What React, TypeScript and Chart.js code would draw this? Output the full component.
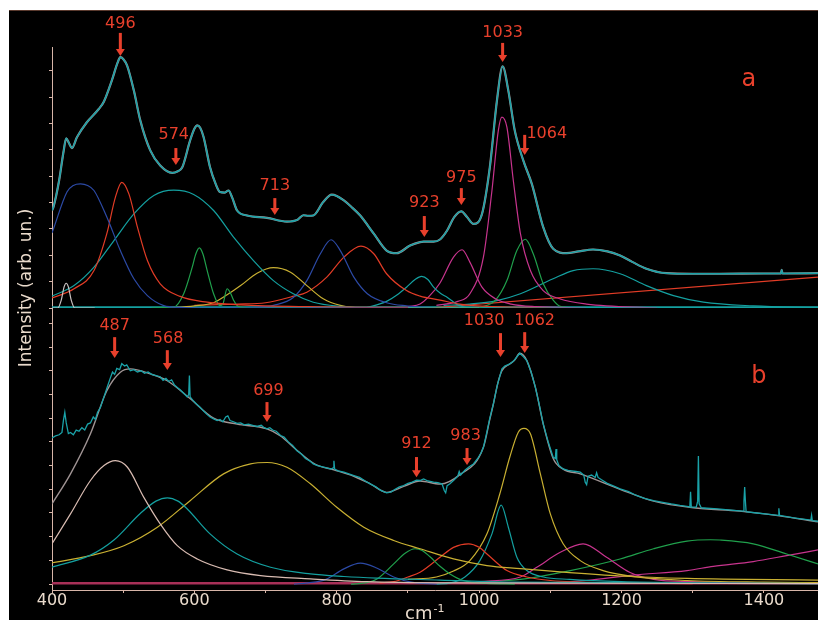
import React, { useEffect, useRef } from 'react';
import { Chart, registerables } from 'chart.js';

Chart.register(...registerables);

type Pt = [number, number];

// ---------- axis ----------
const X_MIN = 400;
const X_MAX = 1476;
const X_TICK_LABELS = [400, 600, 800, 1000, 1200, 1400];
const Y_TITLE = 'Intensity (arb. un.)';
const X_TITLE = 'cm';
const X_TITLE_SUP = '-1';

// ---------- panel a ----------
const spectrumA: Pt[] = [
  [400, 3.7], [402, 3.83], [410, 4.84], [416, 5.9], [420, 6.44], [424, 6.25], [428, 6.07], [435, 6.48],
  [449, 7.05], [466, 7.56], [473, 7.84], [484, 8.63], [492, 9.3], [496, 9.52], [500, 9.45], [505.5, 9.2],
  [515, 8.25], [524, 7.12], [538, 5.98], [552, 5.41], [569, 5.13], [576, 5.18], [583, 5.34], [594, 6.36],
  [600, 6.8], [604, 6.93], [608, 6.85], [613, 6.48], [622, 5.34], [630, 4.7], [636, 4.4], [642, 4.38],
  [648, 4.46], [653, 4.2], [660, 3.7], [674, 3.51], [702, 3.42], [730, 3.28], [745, 3.35], [753, 3.52],
  [760, 3.5], [767, 3.51], [781, 4.02], [793, 4.3], [800, 4.25], [810, 4.08], [820, 3.85], [833, 3.51],
  [852, 2.82], [870, 2.18], [884, 2.08], [903, 2.37], [917, 2.5], [922, 2.52], [936, 2.52], [945, 2.6],
  [955, 2.94], [965, 3.45], [975, 3.67], [983, 3.45], [992, 3.19], [1004, 3.57], [1015, 5.34], [1025, 7.87],
  [1033, 9.17], [1041, 8.25], [1050, 6.74], [1062, 5.6], [1074, 4.71], [1090, 3.07], [1104, 2.25],
  [1123, 2.08], [1140, 2.15], [1160, 2.22], [1180, 2.15], [1198, 1.99], [1215, 1.75], [1235, 1.49],
  [1263, 1.32], [1300, 1.3], [1338, 1.3], [1400, 1.31], [1424, 1.31], [1425, 1.45], [1426, 1.31], [1476, 1.32],
];
const smallPeakA: Pt[] = [[400, 0], [408, 0], [413, 0.3], [417, 0.8], [420, 0.94], [423, 0.8], [427, 0.3], [432, 0], [460, 0]];
const blueA1: Pt[] = [
  [400, 2.85], [402, 3.0], [421, 4.4], [430, 4.65], [440, 4.71], [450, 4.65], [459, 4.46], [477, 3.45],
  [496, 2.18], [515, 1.11], [534, 0.47], [557, 0.09], [580, 0.02], [620, 0], [900, 0],
];
const redA1: Pt[] = [
  [400, 0.38], [431, 0.73], [459, 1.42], [477, 2.82], [489, 4.2], [498, 4.77], [508, 4.33], [520, 3.07],
  [534, 1.8], [552, 0.92], [580, 0.44], [618, 0.22], [665, 0.12], [758, 0.05], [900, 0.02],
];
const tealA1: Pt[] = [
  [400, 0.45], [431, 0.85], [459, 1.55], [487, 2.56], [515, 3.57], [543, 4.27], [571, 4.47], [599, 4.31],
  [627, 3.7], [655, 2.69], [683, 1.8], [711, 1.04], [739, 0.54], [767, 0.22], [805, 0.06], [850, 0], [1476, 0],
];
const greenA1: Pt[] = [
  [540, 0], [571, 0.03], [585, 0.54], [597, 1.55], [602, 2.05], [607, 2.28], [612, 2.05], [618, 1.42],
  [627, 0.54], [636, 0.09], [640, 0.15], [646, 0.73], [651, 0.55], [655, 0.3], [662, 0.05], [680, 0], [760, 0],
];
const yellowA: Pt[] = [
  [560, 0], [600, 0.08], [627, 0.2], [646, 0.5], [665, 0.85], [688, 1.32], [711, 1.53], [735, 1.36],
  [758, 0.85], [781, 0.35], [805, 0.1], [840, 0], [1000, 0],
];
const blueA2: Pt[] = [
  [650, 0], [700, 0.05], [711, 0.1], [739, 0.4], [758, 1.04], [777, 2.06], [792, 2.59], [805, 2.18],
  [824, 1.17], [843, 0.54], [870, 0.2], [898, 0.08], [940, 0],
];
const redA2: Pt[] = [
  [600, 0.1], [660, 0.15], [700, 0.2], [740, 0.45], [758, 0.6], [786, 1.17], [810, 1.93], [834, 2.35],
  [852, 2.06], [870, 1.3], [898, 0.66], [917, 0.45], [945, 0.3], [973, 0.15], [1020, 0.05], [1100, 0],
];
const tealA2: Pt[] = [
  [840, 0], [870, 0.25], [885, 0.5], [898, 0.79], [910, 1.08], [919, 1.2], [928, 1.08], [936, 0.79],
  [946, 0.55], [955, 0.41], [973, 0.08], [1000, 0],
];
const magentaA1: Pt[] = [
  [900, 0.05], [917, 0.15], [930, 0.45], [945, 0.95], [964, 1.93], [976, 2.21], [987, 1.74], [1004, 0.79],
  [1023, 0.35], [1045, 0.15], [1080, 0.05], [1150, 0],
];
const magentaA2: Pt[] = [
  [940, 0.1], [970, 0.25], [987, 0.54], [1006, 1.93], [1018, 4.46], [1027, 6.74], [1032, 7.24], [1039, 6.86],
  [1048, 4.84], [1058, 2.82], [1072, 1.42], [1090, 0.66], [1113, 0.35], [1151, 0.15], [1250, 0],
];
const greenA2: Pt[] = [
  [1000, 0], [1023, 0.3], [1039, 1.04], [1053, 2.18], [1065, 2.61], [1076, 2.06], [1090, 0.92],
  [1104, 0.3], [1115, 0.05], [1140, 0],
];
const tealA3: Pt[] = [
  [950, 0.1], [987, 0.15], [1025, 0.28], [1058, 0.54], [1104, 1.11], [1132, 1.42], [1160, 1.49], [1198, 1.3],
  [1235, 0.85], [1273, 0.47], [1315, 0.22], [1385, 0.08], [1476, 0.02],
];
const redLineA: Pt[] = [[930, 0], [1476, 1.17]];
const baselineA: Pt[] = [[400, 0.03], [1476, 0.03]];

// ---------- panel b ----------
const spectrumB: Pt[] = [
  [400, 6.17], [405, 6.25], [410, 6.3], [414, 6.4], [416, 6.9], [418, 7.25], [420, 6.8], [423, 6.35],
  [426, 6.4], [430, 6.3], [434, 6.5], [438, 6.45], [442, 6.6], [446, 6.5], [450, 6.75], [454, 6.8],
  [458, 7.05], [461, 6.95], [464, 7.25], [468, 7.45], [473, 7.9], [478, 8.35], [482, 8.7], [485, 8.95],
  [488, 8.85], [491, 9.1], [495, 9.05], [498, 9.3], [502, 9.2], [505, 9.25], [510, 9.0], [515, 9.05],
  [520, 8.95], [525, 9.0], [530, 8.9], [535, 8.95], [540, 8.85], [546, 8.8], [552, 8.75], [556, 8.6],
  [560, 8.68], [564, 8.55], [568, 8.62], [572, 8.4], [576, 8.3], [580, 8.2], [585, 8.05], [590, 7.9],
  [592, 8.0], [593, 8.8], [594, 7.9], [598, 7.75], [603, 7.6], [608, 7.46], [613, 7.3], [618, 7.15],
  [622, 7.05], [627, 6.97], [632, 6.9], [636, 6.95], [640, 6.85], [644, 7.05], [647, 7.1], [650, 6.9],
  [655, 6.85], [660, 6.78], [665, 6.8], [670, 6.72], [676, 6.75], [683, 6.69], [688, 6.65], [694, 6.7],
  [698, 6.6], [702, 6.55], [706, 6.6], [710, 6.5], [715, 6.45], [721, 6.27], [726, 6.2], [732, 6.0],
  [738, 5.85], [744, 5.63], [750, 5.5], [756, 5.3], [762, 5.2], [767, 5.07], [773, 5.0], [780, 4.95],
  [786, 4.9], [792, 4.85], [795, 4.9], [796, 5.2], [797, 4.85], [802, 4.78], [810, 4.72], [817, 4.65],
  [824, 4.58], [832, 4.5], [840, 4.35], [847, 4.23], [855, 4.1], [862, 3.95], [870, 3.85], [876, 3.88],
  [882, 4.0], [888, 4.1], [894, 4.16], [900, 4.25], [906, 4.3], [912, 4.38], [917, 4.37], [922, 4.44],
  [928, 4.35], [936, 4.3], [942, 4.28], [948, 4.22], [951, 3.95], [953, 3.85], [955, 4.15], [959, 4.23],
  [965, 4.4], [970, 4.55], [972, 4.75], [974, 4.6], [980, 4.8], [986, 4.95], [992, 5.07], [998, 5.3],
  [1003, 5.55], [1006, 5.77], [1010, 6.3], [1015, 7.0], [1020, 7.6], [1026, 8.45], [1032, 9.08],
  [1036, 9.2], [1040, 9.25], [1043, 9.29], [1048, 9.4], [1052, 9.55], [1057, 9.74], [1062, 9.6],
  [1067, 9.43], [1073, 8.95], [1079, 8.3], [1085, 7.5], [1090, 6.76], [1097, 6.0], [1104, 5.35],
  [1107, 5.3], [1108, 5.7], [1109, 5.25], [1112, 5.0], [1118, 4.86], [1125, 4.8], [1130, 4.78],
  [1136, 4.75], [1142, 4.72], [1147, 4.6], [1149, 4.3], [1151, 4.2], [1153, 4.55], [1158, 4.6],
  [1163, 4.5], [1165, 4.7], [1167, 4.5], [1172, 4.4], [1180, 4.25], [1190, 4.12], [1198, 4.02],
  [1210, 3.9], [1220, 3.75], [1232, 3.62], [1245, 3.52], [1258, 3.45], [1270, 3.38], [1282, 3.32],
  [1294, 3.27], [1296, 3.25], [1297, 3.9], [1298, 3.25], [1305, 3.25], [1307, 3.5], [1308, 5.4],
  [1309, 3.4], [1312, 3.22], [1320, 3.2], [1335, 3.17], [1350, 3.13], [1362, 3.1], [1371, 3.08],
  [1372, 3.5], [1373, 4.1], [1374, 3.5], [1375, 3.06], [1390, 3.0], [1405, 2.95], [1420, 2.9],
  [1421, 3.2], [1422, 2.9], [1440, 2.8], [1455, 2.74], [1466, 2.7], [1467, 2.9], [1468, 2.68], [1476, 2.65],
];
const fitB: Pt[] = [
  [400, 3.38], [426, 4.65], [454, 6.34], [477, 8.16], [496, 8.94], [510, 9.08], [538, 8.87], [562, 8.58],
  [593, 7.85], [627, 7.0], [660, 6.75], [702, 6.55], [721, 6.25], [744, 5.65], [770, 5.05], [796, 4.82],
  [824, 4.55], [847, 4.23], [870, 3.87], [894, 4.12], [917, 4.35], [945, 4.22], [973, 4.62], [1006, 5.77],
  [1015, 6.95], [1020, 7.6], [1026, 8.45], [1032, 9.0], [1043, 9.29], [1050, 9.45], [1057, 9.74],
  [1067, 9.43], [1079, 8.3], [1090, 6.76], [1104, 5.3], [1118, 4.85], [1142, 4.65], [1198, 4.0],
  [1245, 3.5], [1301, 3.22], [1366, 3.08], [1422, 2.88], [1476, 2.63],
];
const beigeB: Pt[] = [
  [400, 1.7], [426, 2.96], [454, 4.37], [473, 5.0], [489, 5.21], [506, 4.93], [529, 3.66], [552, 2.54],
  [576, 1.62], [604, 1.06], [646, 0.6], [693, 0.36], [763, 0.22], [842, 0.1], [950, 0.05], [1476, 0.02],
];
const tealB1: Pt[] = [
  [400, 0.71], [454, 1.22], [487, 1.86], [524, 2.98], [546, 3.5], [562, 3.64], [577, 3.5], [590, 3.17],
  [622, 2.12], [660, 1.27], [707, 0.71], [763, 0.43], [810, 0.32], [856, 0.25], [945, 0.17], [1050, 0.08], [1476, 0.02],
];
const yellowB1: Pt[] = [
  [400, 0.9], [454, 1.2], [501, 1.62], [548, 2.4], [594, 3.52], [641, 4.65], [679, 5.07], [702, 5.13],
  [730, 4.93], [763, 4.23], [800, 3.24], [838, 2.4], [880, 1.84], [917, 1.49], [964, 1.06], [1011, 0.78],
  [1058, 0.65], [1127, 0.48], [1198, 0.34], [1292, 0.24], [1476, 0.17],
];
const blueB: Pt[] = [[740, 0], [760, 0.05], [785, 0.2], [810, 0.64], [833, 0.88], [856, 0.68], [880, 0.3], [905, 0.08], [940, 0]];
const greenB1: Pt[] = [
  [820, 0], [840, 0.05], [856, 0.2], [880, 0.85], [896, 1.3], [910, 1.49], [920, 1.42], [931, 1.15],
  [945, 0.75], [959, 0.43], [978, 0.15], [1010, 0.03], [1050, 0],
];
const redB: Pt[] = [
  [860, 0.05], [880, 0.1], [900, 0.3], [917, 0.5], [945, 1.13], [964, 1.55], [985, 1.7], [1000, 1.55],
  [1011, 1.27], [1039, 0.57], [1067, 0.3], [1100, 0.15], [1200, 0.05], [1300, 0.02],
];
const tealB2: Pt[] = [
  [940, 0], [960, 0.05], [980, 0.3], [1001, 0.99], [1018, 2.12], [1031, 3.33], [1041, 2.4], [1053, 1.13],
  [1067, 0.57], [1090, 0.3], [1127, 0.2], [1200, 0.1], [1300, 0.05], [1476, 0.02],
];
const yellowB2: Pt[] = [
  [900, 0.2], [940, 0.3], [964, 0.55], [987, 0.99], [1011, 2.12], [1029, 3.8], [1043, 5.35], [1055, 6.41],
  [1063, 6.57], [1072, 6.34], [1086, 4.65], [1100, 2.96], [1118, 1.7], [1142, 0.99], [1174, 0.57],
  [1221, 0.3], [1292, 0.15], [1400, 0.08], [1476, 0.06],
];
const magentaB1: Pt[] = [
  [1000, 0.1], [1058, 0.3], [1081, 0.71], [1114, 1.34], [1146, 1.7], [1179, 1.13], [1212, 0.49],
  [1245, 0.2], [1300, 0.1], [1400, 0.05], [1476, 0.04],
];
const greenB2: Pt[] = [
  [1000, 0.1], [1058, 0.2], [1128, 0.57], [1198, 1.06], [1245, 1.49], [1292, 1.81], [1325, 1.87],
  [1338, 1.86], [1385, 1.7], [1432, 1.27], [1476, 0.85],
];
const magentaB2: Pt[] = [
  [1100, 0.05], [1150, 0.15], [1216, 0.38], [1292, 0.57], [1329, 0.75], [1385, 0.95], [1432, 1.2], [1476, 1.44],
];
const baselineB: Pt[] = [[400, 0.04], [1476, 0.04]];

// ---------- peak labels ----------
type PeakLabel = { panel: 'a' | 'b'; label: string; at: number; textAt: number; textY: number; from: number; to: number };
const peakLabels: PeakLabel[] = [
  { panel: 'a', label: '496', at: 496, textAt: 496, textY: 10.78, from: 10.44, to: 9.56 },
  { panel: 'a', label: '574', at: 574, textAt: 571, textY: 6.57, from: 6.07, to: 5.43 },
  { panel: 'a', label: '713', at: 713, textAt: 713, textY: 4.63, from: 4.17, to: 3.53 },
  { panel: 'a', label: '923', at: 923, textAt: 923, textY: 4.0, from: 3.49, to: 2.69 },
  { panel: 'a', label: '975', at: 975, textAt: 975, textY: 4.95, from: 4.55, to: 3.91 },
  { panel: 'a', label: '1033', at: 1033, textAt: 1033, textY: 10.46, from: 10.06, to: 9.34 },
  { panel: 'a', label: '1064', at: 1064, textAt: 1095, textY: 6.6, from: 6.57, to: 5.81 },
  { panel: 'b', label: '487', at: 488, textAt: 488, textY: 10.89, from: 10.42, to: 9.54 },
  { panel: 'b', label: '568', at: 562, textAt: 563, textY: 10.34, from: 9.87, to: 9.03 },
  { panel: 'b', label: '699', at: 702, textAt: 704, textY: 8.14, from: 7.68, to: 6.84 },
  { panel: 'b', label: '912', at: 912, textAt: 912, textY: 5.91, from: 5.36, to: 4.51 },
  { panel: 'b', label: '983', at: 983, textAt: 981, textY: 6.24, from: 5.74, to: 5.02 },
  { panel: 'b', label: '1030', at: 1030, textAt: 1007, textY: 11.1, from: 10.59, to: 9.58 },
  { panel: 'b', label: '1062', at: 1064, textAt: 1078, textY: 11.1, from: 10.63, to: 9.75 },
];
const panelLetters = [
  { panel: 'a', label: 'a', x: 1379, y: 8.65 },
  { panel: 'b', label: 'b', x: 1393, y: 8.73 },
];

// ---------- colours ----------
const AXIS = '#d7b5a8';
const AXIS_TEXT = '#eadbcc';
const RED_TEXT = '#e8402c';
const C = {
  spec: '#1aa2a8',
  fit: '#a09494',
  blue: '#2c4aa6',
  red: '#e23c26',
  teal: '#14a0a0',
  green: '#20a04c',
  yellow: '#c9b032',
  magenta: '#c8348e',
  beige: '#d9bcb2',
  gray: '#c8c0c0',
  maroon: '#a83058',
};

const FONT = '"DejaVu Sans", Verdana, sans-serif';

function ds(data: Pt[], color: string, axis: 'yA' | 'yB', width = 1.2, smooth = true) {
  return {
    data: data.map(([x, y]) => ({ x, y })),
    borderColor: color,
    backgroundColor: color,
    borderWidth: width,
    pointRadius: 0,
    yAxisID: axis,
    xAxisID: 'x',
    fill: false,
    tension: 0,
    cubicInterpolationMode: smooth ? 'monotone' : 'default',
  };
}

const overlayPlugin = {
  id: 'overlay',
  afterDraw(chart: any) {
    const ctx = chart.ctx as CanvasRenderingContext2D;
    const xs = chart.scales.x;
    const ya = chart.scales.yA;
    const yb = chart.scales.yB;
    ctx.save();
    ctx.fillStyle = RED_TEXT;
    ctx.font = `16px ${FONT}`;
    ctx.textAlign = 'center';
    ctx.textBaseline = 'middle';
    for (const p of peakLabels) {
      const ys = p.panel === 'a' ? ya : yb;
      const ax = xs.getPixelForValue(p.at);
      const tx = xs.getPixelForValue(p.textAt);
      ctx.fillText(p.label, tx, ys.getPixelForValue(p.textY));
      const top = ys.getPixelForValue(p.from);
      const bot = ys.getPixelForValue(p.to);
      ctx.fillRect(ax - 1.5, top, 3, bot - top - 6);
      ctx.beginPath();
      ctx.moveTo(ax - 4.5, bot - 7);
      ctx.lineTo(ax + 4.5, bot - 7);
      ctx.lineTo(ax, bot);
      ctx.closePath();
      ctx.fill();
    }
    ctx.font = `24px ${FONT}`;
    for (const l of panelLetters) {
      const ys = l.panel === 'a' ? ya : yb;
      ctx.fillText(l.label, xs.getPixelForValue(l.x), ys.getPixelForValue(l.y));
    }
    ctx.fillStyle = AXIS_TEXT;
    ctx.font = `17px ${FONT}`;
    ctx.save();
    ctx.translate(18, 278);
    ctx.rotate(-Math.PI / 2);
    ctx.textAlign = 'center';
    ctx.textBaseline = 'middle';
    ctx.fillText(Y_TITLE, 0, 0);
    ctx.restore();
    ctx.textAlign = 'left';
    ctx.textBaseline = 'alphabetic';
    ctx.font = `18px ${FONT}`;
    const xt = 396;
    ctx.fillText(X_TITLE, xt, 609);
    const w = ctx.measureText(X_TITLE).width;
    ctx.font = `11px ${FONT}`;
    ctx.fillText(X_TITLE_SUP, xt + w + 1, 602);
    ctx.restore();
  },
};

const yAxisCommon = {
  type: 'linear',
  position: 'left',
  stack: 'y',
  ticks: { display: false, stepSize: 1, includeBounds: false },
  grid: { drawOnChartArea: false, drawTicks: true, tickLength: 3, color: AXIS },
  border: { color: AXIS, width: 1 },
  afterFit: (s: any) => { s.width = 43; },
};

export default function App() {
  const ref = useRef<HTMLCanvasElement | null>(null);
  useEffect(() => {
    if (!ref.current) return;
    const datasets: any[] = [
      ds(spectrumA, C.spec, 'yA', 1.5),
      ds(spectrumA, C.fit, 'yA', 2.2),
      ds(spectrumB, C.spec, 'yB', 1.3, false),
      ds(fitB, C.fit, 'yB', 1.4),
      ds(smallPeakA, C.gray, 'yA'),
      ds(blueA1, C.blue, 'yA'),
      ds(redA1, C.red, 'yA'),
      ds(tealA1, C.teal, 'yA'),
      ds(greenA1, C.green, 'yA'),
      ds(yellowA, C.yellow, 'yA'),
      ds(blueA2, C.blue, 'yA'),
      ds(redA2, C.red, 'yA'),
      ds(tealA2, C.teal, 'yA'),
      ds(magentaA1, C.magenta, 'yA'),
      ds(magentaA2, C.magenta, 'yA'),
      ds(greenA2, C.green, 'yA'),
      ds(tealA3, C.teal, 'yA'),
      ds(redLineA, C.red, 'yA', 1.2, false),
      ds(baselineA, C.teal, 'yA', 2, false),
      ds(beigeB, C.beige, 'yB'),
      ds(tealB1, C.teal, 'yB'),
      ds(yellowB1, C.yellow, 'yB'),
      ds(blueB, C.blue, 'yB'),
      ds(greenB1, C.green, 'yB'),
      ds(redB, C.red, 'yB'),
      ds(tealB2, C.teal, 'yB'),
      ds(yellowB2, C.yellow, 'yB'),
      ds(magentaB1, C.magenta, 'yB'),
      ds(greenB2, C.green, 'yB'),
      ds(magentaB2, C.magenta, 'yB'),
      ds(baselineB, C.maroon, 'yB', 2.5, false),
    ];
    const chart = new Chart(ref.current, {
      type: 'line',
      data: { datasets },
      options: {
        animation: false,
        responsive: false,
        events: [],
        layout: { padding: { top: 37, left: 0, right: 0, bottom: 0 } },
        plugins: { legend: { display: false }, tooltip: { enabled: false }, title: { display: false } },
        scales: {
          x: {
            type: 'linear',
            position: 'bottom',
            min: X_MIN,
            max: X_MAX,
            ticks: {
              stepSize: 100,
              includeBounds: false,
              autoSkip: false,
              maxRotation: 0,
              color: AXIS_TEXT,
              padding: -2,
              font: { family: FONT, size: 16 },
              callback: (v: any) => (X_TICK_LABELS.includes(Number(v)) ? String(v) : ''),
            },
            grid: { drawOnChartArea: false, drawTicks: true, tickLength: 3, color: AXIS },
            border: { color: AXIS, width: 1 },
            afterFit: (s: any) => { s.height = 30; },
          },
          // stacked vertical axes are laid out bottom-first: panel b below, panel a above
          yB: { ...yAxisCommon, stackWeight: 282, min: -0.25, max: 11.65 },
          yA: { ...yAxisCommon, stackWeight: 261, min: 0, max: 9.905 },
        },
      } as any,
      plugins: [overlayPlugin],
    });
    return () => chart.destroy();
  }, []);
  return (
    <div
      style={{
        position: 'absolute',
        left: 9,
        top: 10,
        width: 809,
        height: 610,
        background: '#000',
        boxShadow: 'inset 0 1px 0 #5a3a2e',
        overflow: 'hidden',
      }}
    >
      <canvas ref={ref} width={809} height={610} style={{ display: 'block', width: 809, height: 610 }} />
    </div>
  );
}
